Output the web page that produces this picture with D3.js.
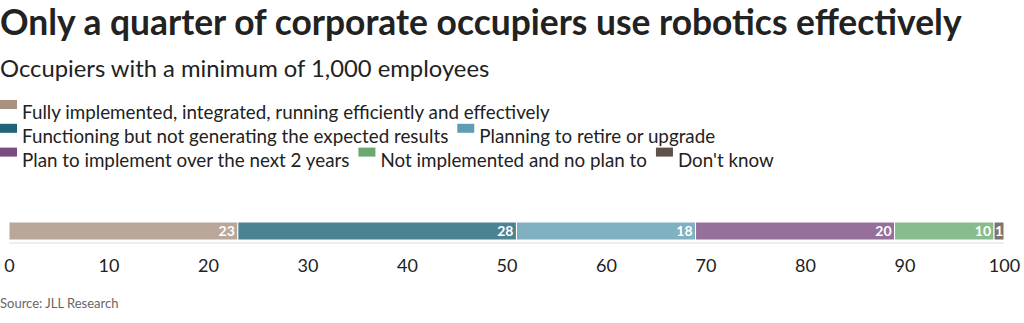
<!DOCTYPE html>
<html>
<head>
<meta charset="utf-8">
<script src="https://cdn.jsdelivr.net/npm/d3@7"></script>
<style>
  html, body { margin: 0; padding: 0; background: #fff; }
  svg text { font-family: "Source Sans Pro", Lato, "Noto Sans", sans-serif; }
</style>
</head>
<body>
<svg id="chart" width="1024" height="323"></svg>
<script>
// Survey responses (share of occupiers, %)
const categories = [
  "Fully implemented, integrated, running efficiently and effectively",
  "Functioning but not generating the expected results",
  "Planning to retire or upgrade",
  "Plan to implement over the next 2 years",
  "Not implemented and no plan to",
  "Don't know"
];
const values = [23, 28, 18, 20, 10, 1];
const colors = ["#a8917f", "#1f6478", "#5f9db2", "#7b4c82", "#6aaa70", "#5e514a"];
const tickValues = [0, 10, 20, 30, 40, 50, 60, 70, 80, 90, 100];

const title = "Only a quarter of corporate occupiers use robotics effectively";
const subtitle = "Occupiers with a minimum of 1,000 employees";
const source = "Source: JLL Research";

const svg = d3.select("#chart");

svg.append("text")
  .attr("x", 0).attr("y", 35)
  .attr("font-size", 35.4).attr("font-weight", 700)
  .attr("fill", "#222")
  .text(title);

svg.append("text")
  .attr("x", 0).attr("y", 77)
  .attr("font-size", 23.8)
  .attr("fill", "#222")
  .text(subtitle);

// Legend: flowing rows of swatch + label
const legend = svg.append("g");
const rowH = 23.8, swW = 17, swH = 9, maxW = 1000;
let lx = 0, ly = 0;
categories.forEach((c, i) => {
  const g = legend.append("g");
  const t = g.append("text")
    .attr("x", 22).attr("y", 0)
    .attr("font-size", 18.8)
    .attr("fill", "#222")
    .text(c);
  const w = 22 + t.node().getComputedTextLength();
  if (lx > 0 && lx + w > maxW) { lx = 0; ly += rowH; }
  g.append("rect")
    .attr("x", 0).attr("y", -19)
    .attr("width", swW).attr("height", swH)
    .attr("fill", colors[i]);
  g.attr("transform", `translate(${lx},${119 + ly})`);
  lx += w + 9;
});

// Stacked bar
const x = d3.scaleLinear().domain([0, 100]).range([9, 1004]);
const barY = 222, barH = 18;
let acc = 0;
const segs = values.map((v, i) => {
  const s = { start: acc, end: acc + v, value: v, color: colors[i] };
  acc += v;
  return s;
});

svg.append("line")
  .attr("x1", x(0)).attr("x2", x(100))
  .attr("y1", barY + barH + 3).attr("y2", barY + barH + 3)
  .attr("stroke", "#eeeeee").attr("stroke-width", 2);

const bars = svg.append("g");
bars.selectAll("rect")
  .data(segs)
  .join("rect")
  .attr("x", d => x(d.start))
  .attr("y", barY)
  .attr("width", d => Math.max(0, x(d.end) - x(d.start)))
  .attr("height", barH)
  .attr("fill", d => d.color)
  .attr("fill-opacity", 0.8)
  .attr("stroke", "#fff")
  .attr("stroke-width", 1);

bars.selectAll("text")
  .data(segs)
  .join("text")
  .attr("x", d => d.value < 3 ? (x(d.start) + x(d.end)) / 2 : x(d.end) - 3)
  .attr("y", barY + 14)
  .attr("text-anchor", d => d.value < 3 ? "middle" : "end")
  .attr("font-size", 14)
  .attr("font-weight", 700)
  .attr("fill", "#fff")
  .text(d => d.value);

// Axis
const axis = d3.axisBottom(x).tickValues(tickValues).tickSize(0).tickPadding(0);
const ax = svg.append("g")
  .attr("transform", `translate(0,${barY + barH})`)
  .call(axis);
ax.select(".domain").remove();
ax.selectAll("text")
  .attr("y", 32)
  .attr("dy", 0)
  .attr("font-size", 18)
  .attr("fill", "#222")
  .style("font-family", '"Source Sans Pro", Lato, "Noto Sans", sans-serif');

svg.append("text")
  .attr("x", 0).attr("y", 308)
  .attr("font-size", 13)
  .attr("fill", "#666")
  .text(source);
</script>
</body>
</html>
